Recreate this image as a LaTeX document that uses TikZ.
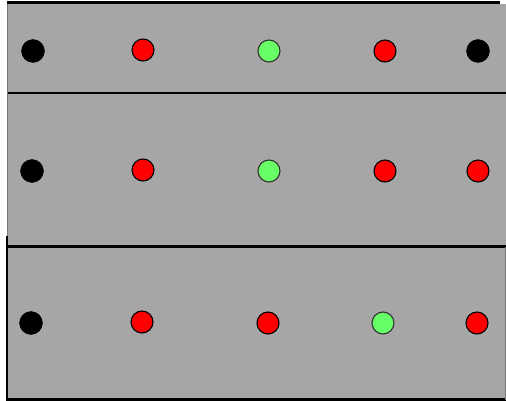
\documentclass[tikz,border=0pt]{standalone}
\usepackage{tikz}

\definecolor{panel}{HTML}{A6A6A6}
\definecolor{lgreen}{HTML}{66FF66}
\definecolor{edge}{HTML}{777777}

\tikzset{
  blackdot/.style={circle, fill=black, draw=black, minimum size=23pt, inner sep=0pt},
  reddot/.style={circle, fill=red, draw=black, line width=1.1pt, minimum size=22pt, inner sep=0pt},
  greendot/.style={circle, fill=lgreen, draw=black!80, line width=1.1pt, minimum size=22pt, inner sep=0pt}
}

\begin{document}
\begin{tikzpicture}[x=1pt,y=-1pt]
\useasboundingbox (0,0) rectangle (506,401);
\fill[white] (0,0) rectangle (506,401);
% the three bands
\fill[panel] (7,4) rectangle (506,400);
\draw[line width=3pt] (7,3)--(500,3);
\draw[line width=2.6pt] (7,93)--(506,93);
\draw[line width=2.6pt] (7,246.5)--(506,246.5);
\draw[edge, line width=1.5pt] (7.5,4)--(7.5,236);
\draw[line width=2.6pt] (7,236)--(7,399.5)--(506,399.5);
\draw[edge, line width=1.3pt] (505.5,247)--(505.5,400);
% top row
\node[blackdot] (a1) at (33,51) {};
\node[reddot] (a2) at (143,50) {};
\node[greendot] (a3) at (269,51) {};
\node[reddot] (a4) at (385,51) {};
\node[blackdot] (a5) at (478,51) {};
% middle row
\node[blackdot] (b1) at (32,171) {};
\node[reddot] (b2) at (143,170) {};
\node[greendot] (b3) at (269,171) {};
\node[reddot] (b4) at (385,171) {};
\node[reddot] (b5) at (478,171) {};
% bottom row
\node[blackdot] (c1) at (31,323) {};
\node[reddot] (c2) at (142,322) {};
\node[reddot] (c3) at (268,323) {};
\node[greendot] (c4) at (383,323) {};
\node[reddot] (c5) at (477,323) {};
\end{tikzpicture}
\end{document}
